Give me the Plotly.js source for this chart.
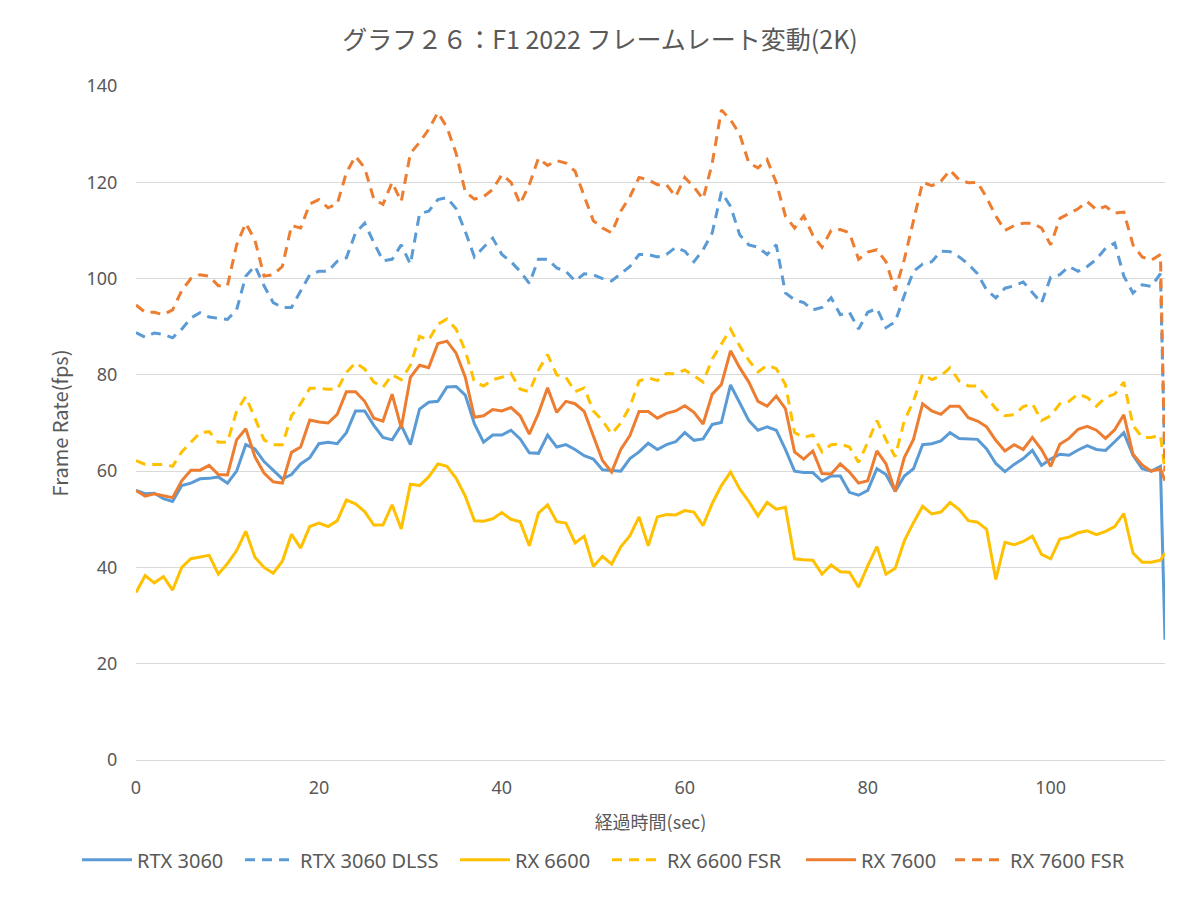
<!DOCTYPE html>
<html>
<head>
<meta charset="utf-8">
<script src="https://cdn.plot.ly/plotly-3.0.1.min.js"></script>
<style>
  html, body { margin: 0; padding: 0; background: #ffffff; }
  #chart { width: 1200px; height: 897px; }
</style>
</head>
<body>
<div id="chart"></div>
<script>
// Series names
const seriesNames = ["RTX 3060", "RTX 3060 DLSS", "RX 6600", "RX 6600 FSR", "RX 7600", "RX 7600 FSR"];

// Elapsed time (sec): one reading per second, plus the final half-second
const timeSec = Array.from({length: 113}, (_, i) => i).concat([112.5]);

// Frame rate (fps) readings
const rtx3060 = [
  56, 55.3, 55.4, 54.3, 53.7, 57, 57.5, 58.4, 58.5, 58.8, 57.5, 60, 65.5, 64.6, 62, 60.3, 58.4, 59.3, 61.5, 62.8,
  65.7, 66, 65.7, 68, 72.5, 72.5, 69.5, 67, 66.5, 69.5, 65.5, 72.9, 74.3, 74.5, 77.5, 77.6, 75.8, 69.8, 66, 67.5,
  67.5, 68.5, 66.7, 63.8, 63.7, 67.5, 65, 65.5, 64.5, 63.2, 62.5, 60.3, 60.1, 60, 62.6, 64, 65.8, 64.5, 65.5, 66.1,
  68, 66.4, 66.7, 69.7, 70.1, 77.9, 74.2, 70.5, 68.5, 69.2, 68.5, 64.5, 60, 59.7, 59.7, 57.9, 59, 59, 55.6, 55,
  56, 60.5, 59.3, 55.8, 59, 60.5, 65.5, 65.7, 66.3, 68, 66.8, 66.7, 66.6, 64.6, 61.6, 59.9, 61.4, 62.6, 64.3, 61.2,
  62.5, 63.5, 63.3, 64.4, 65.3, 64.5, 64.3, 66.1, 68, 63.3, 60.5, 60, 61,
  25
];
const rtx3060Dlss = [
  88.8, 87.8, 88.7, 88.4, 87.7, 89.5, 91.8, 92.9, 92, 91.8, 91.5, 93.5, 100.5, 102.6, 98.5, 95, 94, 94, 97.5, 100.8,
  101.5, 101.5, 103.6, 104.3, 109.5, 111.5, 107.5, 103.7, 104, 107, 103, 113.5, 114, 116.4, 116.8, 114.5, 109.8, 104.5, 106.5, 108.4,
  105, 103.5, 101.5, 99, 104, 104, 102.2, 101.5, 99.5, 101, 100.8, 100, 99.5, 101, 102.5, 105, 105, 104.5, 105, 106.5,
  105.7, 103.5, 106, 109.5, 118, 115, 109.1, 107, 106.5, 105, 107, 97, 95.6, 95, 93.5, 94, 96, 92.5, 93, 89.5,
  93, 93.8, 89.8, 91, 96.5, 101.5, 103, 103.5, 105.7, 105.6, 104.5, 103, 101, 97.6, 96, 98, 98.5, 99.3, 97, 94.9,
  100.3, 100.8, 102.5, 101.5, 102.5, 104, 106.3, 107.4, 100.5, 97, 98.7, 98.4, 101,
  60
];
const rx6600 = [
  34.8, 38.3, 36.8, 38.1, 35.3, 40, 41.8, 42.1, 42.5, 38.6, 40.8, 43.5, 47.5, 42.1, 40, 38.8, 41.3, 46.9, 44, 48.5,
  49.2, 48.5, 49.7, 54, 53.2, 51.6, 48.8, 48.8, 53, 48, 57.3, 57, 58.8, 61.5, 61, 58.5, 54.8, 49.7, 49.6, 50.1,
  51.4, 50, 49.5, 44.5, 51.3, 53, 49.5, 49.2, 45.1, 46.5, 40.2, 42.3, 40.7, 44.3, 46.6, 50.5, 44.5, 50.5, 51, 50.9,
  51.8, 51.5, 48.7, 53.3, 57, 59.8, 56.3, 53.7, 50.7, 53.5, 52.1, 52.5, 41.8, 41.6, 41.5, 38.6, 40.5, 39.1, 39, 35.9,
  40.3, 44.3, 38.6, 39.8, 45.5, 49.3, 52.7, 51.1, 51.5, 53.5, 52, 49.7, 49.4, 47.9, 37.5, 45.2, 44.7, 45.4, 46.5, 42.7,
  41.8, 45.9, 46.3, 47.2, 47.6, 46.8, 47.5, 48.5, 51.2, 43, 41.1, 41.1, 41.5,
  43
];
const rx6600Fsr = [
  62.2, 61.4, 61.4, 61.4, 61, 64, 66, 68, 68.2, 66, 66, 72.5, 75.5, 71, 66.5, 65.5, 65.5, 71.5, 74, 77.2,
  77.2, 77, 77, 80.5, 82.5, 81.2, 78.5, 77.4, 80, 79, 82, 88, 87.2, 90.5, 91.6, 89.5, 85, 78.5, 77.7, 79,
  79.5, 80.3, 77, 76.5, 81, 84.2, 80, 79.5, 76.5, 77.3, 72.5, 70.5, 67.7, 70, 73.4, 78.7, 79.4, 78.8, 80.3, 80.2,
  81, 79.8, 78.5, 83.3, 86.5, 89.5, 86, 83, 80.6, 82, 81.3, 78, 68, 67, 67.5, 64, 65.5, 65.6, 65, 61.8,
  66, 70.5, 66.5, 63, 70.5, 74.5, 80.2, 79, 79.8, 81.5, 78.7, 77.7, 77.7, 75.3, 73, 71.5, 71.7, 73.4, 74, 70.5,
  71.5, 74, 74.5, 76, 75.3, 73.5, 75.3, 76, 78.5, 69.5, 67, 67, 67.5,
  60
];
const rx7600 = [
  56, 54.8, 55.3, 54.9, 54.5, 58, 60.2, 60.2, 61.2, 59.3, 59.2, 66.5, 68.8, 63, 59.6, 57.8, 57.5, 63.9, 65, 70.6,
  70.2, 70, 71.8, 76.5, 76.5, 74.5, 71, 70.4, 76, 69, 79.5, 82, 81.5, 86.5, 87, 84.5, 79.5, 71.2, 71.5, 72.8,
  72.5, 73.2, 71.5, 67.7, 72, 77.3, 72.2, 74.5, 74, 72.4, 67.5, 62.2, 59.8, 64.5, 67.4, 72.4, 72.4, 71, 72, 72.5,
  73.6, 72.2, 69.8, 76, 78, 85, 81.5, 78.5, 74.5, 73.5, 75.6, 73, 64, 62.5, 64.2, 59.5, 59.4, 61.5, 59.8, 57.5,
  58, 64.2, 61.5, 55.8, 62.8, 66.6, 74, 72.5, 71.8, 73.5, 73.5, 71.1, 70.4, 69.2, 66.4, 64.2, 65.5, 64.5, 67, 64.5,
  61, 65.6, 66.8, 68.7, 69.3, 68.5, 66.8, 68.6, 71.7, 63.5, 61.3, 60, 60.5,
  58
];
const rx7600Fsr = [
  94.5, 93, 93, 92.5, 93.5, 97.5, 100, 100.8, 100.5, 98.5, 98.5, 107, 111.5, 108, 100.5, 100.8, 102.5, 111, 110.5, 115.5,
  116.4, 114.7, 115.5, 122, 125.4, 123, 116.5, 115.4, 120, 116, 126, 128.3, 131, 134.5, 131.4, 126, 118, 116.5, 117, 118.5,
  121.6, 120, 115.5, 119.5, 125, 123.5, 124.5, 124, 122.3, 117, 112, 110.5, 109.5, 114, 117, 121, 120.5, 119.5, 119.5, 117,
  121, 119, 116.5, 124, 135, 133, 130, 124, 123, 124.7, 119.9, 113, 110.5, 113, 109, 106.5, 110, 110.2, 109.5, 104,
  105.5, 106, 103.5, 97.5, 104, 112, 120, 119.3, 120.2, 122.5, 120.5, 119.9, 120, 116.8, 113, 110, 111, 111.5, 111.5, 110.5,
  107, 112.5, 113.5, 114.5, 116, 114.3, 115, 113.6, 113.8, 107, 104.5, 103.8, 105,
  60
];

// Axis ticks
const xTicks = [0, 20, 40, 60, 80, 100];
const yTicks = [0, 20, 40, 60, 80, 100, 120, 140];

const BLUE = "#5b9bd5", ORANGE = "#ed7d31", YELLOW = "#ffc000";
const DASH = "10px,7px";
const CJK = "'Noto Sans CJK JP', 'Noto Sans', sans-serif";
const LATIN = "'Noto Sans', 'Noto Sans CJK JP', sans-serif";

const seriesData = [rtx3060, rtx3060Dlss, rx6600, rx6600Fsr, rx7600, rx7600Fsr];
const styles = [
  {color: BLUE, dash: "solid"},
  {color: BLUE, dash: DASH},
  {color: YELLOW, dash: "solid"},
  {color: YELLOW, dash: DASH},
  {color: ORANGE, dash: "solid"},
  {color: ORANGE, dash: DASH}
];
const legendIds = ["legend", "legend2", "legend3", "legend4", "legend5", "legend6"];
const legendX = [-0.0573, 0.1011, 0.3100, 0.4577, 0.6463, 0.7911];

const traces = seriesData.map((ys, i) => ({
  type: "scatter",
  mode: "lines",
  name: seriesNames[i],
  x: timeSec,
  y: ys,
  legend: legendIds[i],
  line: {color: styles[i].color, width: 3, dash: styles[i].dash}
}));

const layout = {
  width: 1200,
  height: 897,
  paper_bgcolor: "#ffffff",
  plot_bgcolor: "#ffffff",
  margin: {l: 136, r: 35, t: 86, b: 137},
  font: {family: LATIN, color: "#595959", size: 16},
  title: {
    text: "グラフ２６：F1 2022 フレームレート変動(2K)",
    font: {family: CJK, size: 25, color: "#595959"},
    x: 0.5, xanchor: "center", y: 0.955, yanchor: "middle"
  },
  xaxis: {
    range: [0, 112.5],
    tickvals: xTicks,
    ticktext: xTicks.map(String),
    showgrid: false,
    zeroline: false,
    showline: true,
    linecolor: "#d9d9d9",
    linewidth: 1,
    ticks: "outside",
    ticklen: 11,
    tickcolor: "rgba(0,0,0,0)",
    tickfont: {family: LATIN, size: 18, color: "#595959"},
    title: {text: "経過時間(sec)", font: {family: CJK, size: 18, color: "#595959"}, standoff: 18}
  },
  yaxis: {
    range: [0, 140],
    tickvals: yTicks,
    ticktext: yTicks.map(String),
    showgrid: true,
    gridcolor: "#d9d9d9",
    gridwidth: 1,
    zeroline: false,
    showline: false,
    ticks: "outside",
    ticklen: 14,
    tickcolor: "rgba(0,0,0,0)",
    tickfont: {family: LATIN, size: 18, color: "#595959"},
    title: {text: "Frame Rate(fps)", font: {family: CJK, size: 20, color: "#595959"}, standoff: 12}
  },
  showlegend: true
};

legendIds.forEach((id, i) => {
  layout[id] = {
    orientation: "h",
    x: legendX[i], xanchor: "left",
    y: -0.148, yanchor: "middle",
    font: {family: LATIN, size: 20, color: "#595959"},
    bgcolor: "rgba(0,0,0,0)",
    itemwidth: 50
  };
});

Plotly.newPlot("chart", traces, layout, {staticPlot: true, displayModeBar: false});
</script>
</body>
</html>
